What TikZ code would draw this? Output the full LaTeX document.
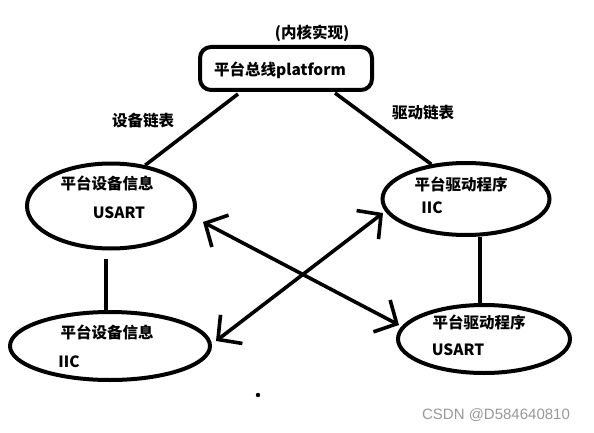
\documentclass[tikz,border=0pt]{standalone}
\usepackage{fontspec}
\newfontfamily\cjk{Noto Sans CJK SC}
\newfontfamily\wm{Liberation Sans}
\usetikzlibrary{shapes.geometric,arrows.meta,calc}
\tikzset{
  ln/.style={line width=3.6pt, black},
  ell/.style={ellipse, draw, line width=4pt, inner sep=0pt},
  lbl/.style={font=\cjk\bfseries\fontsize{15.5}{18}\selectfont, inner sep=0pt},
  dbl/.style={ln, {Straight Barb[length=17pt,width=36pt,line width=3.6pt]}-{Straight Barb[length=17pt,width=36pt,line width=3.6pt]}}
}
\begin{document}
\begin{tikzpicture}[x=1pt,y=-1pt]
\useasboundingbox (0,0) rectangle (594,433);
\fill[white] (0,0) rectangle (594,433);
% top box
\node[draw, line width=4pt, rounded corners=11pt, minimum width=172pt, minimum height=43pt] (top) at (286,68.5) {};
\node[lbl] (toptxt) at (280,70) {平台总线platform};
\node[lbl] (kern) at (312,33) {(内核实现)};
% ellipses
\node[ell, minimum width=168pt, minimum height=85pt] (lt) at (111,206) {};
\node[ell, minimum width=200pt, minimum height=68pt] (lb) at (110,346) {};
\node[ell, minimum width=167pt, minimum height=72pt] (rt) at (466,199) {};
\node[ell, minimum width=172pt, minimum height=68pt] (rb) at (484,339) {};
% texts
\node[lbl] (lt1) at (107,183) {平台设备信息};
\node[lbl] (lt2) at (119,213) {USART};
\node[lbl] (lb1) at (107,332) {平台设备信息};
\node[lbl] (lb2) at (69,362) {IIC};
\node[lbl] (rt1) at (461,184) {平台驱动程序};
\node[lbl] (rt2) at (432,208) {IIC};
\node[lbl] (rb1) at (479,322) {平台驱动程序};
\node[lbl] (rb2) at (458,350) {USART};
\node[lbl] (dl) at (143,121) {设备链表};
\node[lbl] (drl) at (423,113) {驱动链表};
% connectors
\draw[ln] ($(top.south)+(-48,2)$) -- (lt.50);
\draw[ln] ($(top.south)+(49,1)$) -- (rt.135);
\draw[ln] ($(lt.south)+(-5,8)$) -- ($(lb.north)+(-4,0)$);
\draw[ln] ($(rt.south)+(14,0)$) -- ($(rb.north)+(-4,0)$);
% arrows
\coordinate (a1) at (203,222);
\coordinate (a2) at (399,325);
\coordinate (b1) at (216,341);
\coordinate (b2) at (383,213);
\draw[dbl] (a1) -- (a2);
\draw[dbl] (b1) -- (b2);
% dot
\fill (258,395) circle (2.2pt);
% watermark
\node[font=\wm\fontsize{15}{18}\selectfont, text=black!40, inner sep=0pt] (wmk) at (496,415) {CSDN @D584640810};
\end{tikzpicture}
\end{document}
